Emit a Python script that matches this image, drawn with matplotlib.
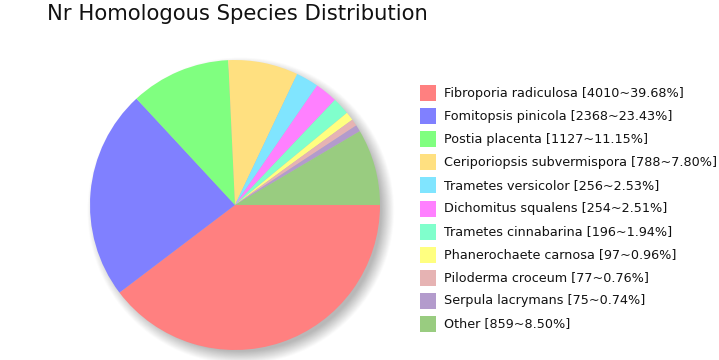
import numpy as np
import matplotlib
matplotlib.use("Agg")
import matplotlib.pyplot as plt
from matplotlib.patches import Rectangle

species = ["Fibroporia radiculosa", "Fomitopsis pinicola", "Postia placenta",
           "Ceriporiopsis subvermispora", "Trametes versicolor", "Dichomitus squalens",
           "Trametes cinnabarina", "Phanerochaete carnosa", "Piloderma croceum",
           "Serpula lacrymans", "Other"]
counts = [4010, 2368, 1127, 788, 256, 254, 196, 97, 77, 75, 859]
percents = [39.68, 23.43, 11.15, 7.80, 2.53, 2.51, 1.94, 0.96, 0.76, 0.74, 8.50]
colors = ["#FF8080", "#8080FF", "#80FF80", "#FFE080", "#80E5FF", "#FF80FF",
          "#80FFCC", "#FFFF80", "#E6B3B3", "#B39BCC", "#99CC80"]

W, H = 719, 360
fig = plt.figure(figsize=(W / 100, H / 100), dpi=100)
fig.patch.set_facecolor("white")

cx, cy, r = 235, 205, 145
k = 1.15
ax = fig.add_axes([(cx - r * k) / W, (H - cy - r * k) / H, 2 * k * r / W, 2 * k * r / H])
ax.set_aspect("equal")
ax.axis("off")

# soft drop shadow
n = 400
g = np.linspace(-k, k, n)
X, Y = np.meshgrid(g, g)
d = np.sqrt((X - 0.04) ** 2 + (Y + 0.04) ** 2)
alpha = np.clip((1.06 - d) / 0.09, 0, 1) * 0.5
img = np.zeros((n, n, 4))
img[..., :3] = 0.45
img[..., 3] = alpha
ax.imshow(img, extent=(-k, k, -k, k), origin="lower", zorder=0,
          interpolation="bilinear")

ax.pie(counts, colors=colors, startangle=0, counterclock=False, radius=1,
       wedgeprops=dict(linewidth=0, edgecolor="none", zorder=2))
ax.set_xlim(-k, k)
ax.set_ylim(-k, k)

fig.text(47 / W, 1 - 14 / H, "Nr Homologous Species Distribution", fontsize=15.2,
         ha="left", va="center", color="#111111", family="DejaVu Sans")

y0, dy = 93, 23.1
sq = 16
for i, (name, c, p, col) in enumerate(zip(species, counts, percents, colors)):
    y = y0 + i * dy
    fig.patches.append(Rectangle((420 / W, 1 - (y + sq / 2) / H), sq / W, sq / H,
                                 transform=fig.transFigure, facecolor=col,
                                 edgecolor="none"))
    fig.text(444 / W, 1 - y / H, f"{name} [{c}~{p:.2f}%]", fontsize=9.2,
             ha="left", va="center", color="#111111", family="DejaVu Sans")

fig.savefig("out.png", dpi=100, facecolor="white")
